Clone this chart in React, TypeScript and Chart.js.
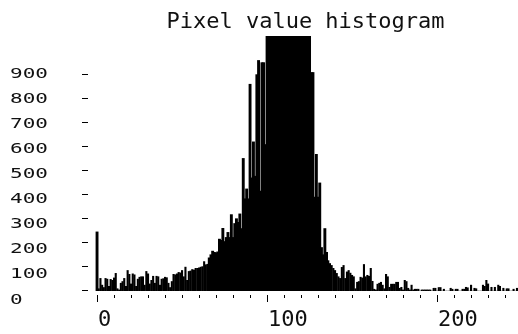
import { useEffect, useRef } from "react";
import { Chart, registerables } from "chart.js";

Chart.register(...registerables);

const chartTitle = "Pixel value histogram";

// Histogram counts per pixel value (bins 0..247)
const countsLow = [
  245, 10, 53, 25, 15, 53, 50, 20, 49, 45,
  55, 74, 10, 5, 33, 40, 53, 20, 86, 70,
  30, 72, 68, 20, 50, 58, 60, 60, 25, 82,
  72, 30, 45, 62, 33, 62, 60, 25, 50, 52,
  58, 56, 33, 15, 40, 70, 68, 72, 78, 76,
];
const countsRise = [
  86, 60, 100, 45, 82, 84, 90, 88, 95, 95,
  97, 100, 102, 123, 110, 112, 137, 150, 165, 160,
  158, 162, 215, 210, 260, 205, 222, 243, 222, 317,
  222, 280, 300, 285, 320, 259, 551, 383, 424, 383,
  860, 470, 620, 477, 900, 959, 415, 950, 950, 609,
];
const countsPeak = [
  1150, 1250, 1350, 1450, 1550, 1650, 1750, 1850, 1900, 1950,
  2000, 2050, 2050, 2000, 1950, 1900, 1850, 1750, 1650, 1550,
  1450, 1350, 1250, 1200, 1150, 1100, 909, 909, 390, 568,
  390, 449, 180, 150, 259, 160, 127, 115, 107, 95,
  86, 74, 60, 53, 99, 107, 53, 80, 86, 75,
];
const countsTail = [
  66, 60, 10, 37, 40, 58, 55, 111, 60, 66,
  62, 95, 41, 8, 5, 29, 33, 37, 25, 10,
  70, 60, 16, 29, 29, 29, 37, 37, 12, 16,
  5, 45, 40, 12, 5, 25, 5, 8, 8, 8,
  0, 5, 5, 5, 5, 5, 5, 0, 12, 12,
];
const countsFar = [
  0, 15, 15, 0, 8, 0, 0, 0, 12, 8,
  0, 8, 8, 0, 0, 8, 8, 16, 14, 0,
  25, 0, 12, 10, 0, 0, 0, 25, 20, 45,
  30, 0, 16, 0, 16, 0, 25, 20, 0, 12,
  0, 10, 10, 0, 0, 8, 0, 12,
];

const counts = [...countsLow, ...countsRise, ...countsPeak, ...countsTail, ...countsFar];
const pixelValues = counts.map((_, i) => i);

const yTickValues = [0, 100, 200, 300, 400, 500, 600, 700, 800, 900];
const xMajorTicks = [0, 100, 200];
const xMinorTicks = [10, 20, 30, 40, 50, 60, 70, 80, 90, 110, 120, 130, 140, 150, 160, 170, 180, 190, 210, 220, 230, 240];

const X_MIN = -1.2;
const X_MAX = 247.6;
const Y_MAX = 1062;

const FONT = "'DejaVu Sans Mono', 'Liberation Mono', monospace";

export default function App() {
  const ref = useRef<HTMLCanvasElement | null>(null);

  useEffect(() => {
    if (!ref.current) return;

    const axesPlugin = {
      id: "oldStyleAxes",
      afterDraw(chart: any) {
        const ctx: CanvasRenderingContext2D = chart.ctx;
        const xs = chart.scales.x;
        const ys = chart.scales.y;
        const area = chart.chartArea;
        ctx.save();
        ctx.strokeStyle = "#000";
        ctx.fillStyle = "#111";
        ctx.lineWidth = 1;

        // y-axis dashes
        for (const v of yTickValues) {
          const py = Math.round(ys.getPixelForValue(v)) - 0.5;
          ctx.beginPath();
          ctx.moveTo(area.left - 13, py);
          ctx.lineTo(area.left - 7, py);
          ctx.stroke();
        }
        // y labels (wide, short glyphs)
        ctx.font = `14px ${FONT}`;
        ctx.textAlign = "left";
        ctx.textBaseline = "alphabetic";
        for (const v of yTickValues) {
          const center = ys.getPixelForValue(v) - 1.5 + (900 - v) * 0.01;
          ctx.save();
          ctx.translate(10, center + 5);
          ctx.scale(1.5, 1);
          ctx.fillText(String(v), 0, 0);
          ctx.restore();
        }

        // x-axis ticks
        const base = area.bottom;
        for (const v of xMinorTicks) {
          const px = Math.round(xs.getPixelForValue(v)) + 0.5;
          ctx.beginPath();
          ctx.moveTo(px, base + 4);
          ctx.lineTo(px, base + 7);
          ctx.stroke();
        }
        for (const v of xMajorTicks) {
          const px = Math.round(xs.getPixelForValue(v)) + 0.5;
          ctx.beginPath();
          ctx.moveTo(px, base + 4);
          ctx.lineTo(px, base + 11);
          ctx.stroke();
        }
        ctx.font = `22px ${FONT}`;
        ctx.textAlign = "left";
        for (const v of xMajorTicks) {
          const px = xs.getPixelForValue(v);
          ctx.fillText(String(v), px + 1, base + 35);
        }

        // title
        ctx.font = `22px ${FONT}`;
        ctx.textAlign = "center";
        ctx.fillText(chartTitle, 305.5, 27.5);
        ctx.restore();
      },
    };

    const chart = new Chart(ref.current, {
      type: "bar",
      data: {
        datasets: [
          {
            label: "count",
            data: pixelValues.map((x, i) => ({ x, y: counts[i] })),
            backgroundColor: "#000",
            borderWidth: 0,
            barPercentage: 1,
            categoryPercentage: 1,
            inflateAmount: (c: any) => (c.raw && c.raw.y >= 130 ? 0.6 : 0.2),
          },
        ],
      },
      options: {
        responsive: false,
        animation: false,
        devicePixelRatio: 1,
        layout: { padding: { left: 95, right: 0, top: 36, bottom: 43 } },
        plugins: {
          legend: { display: false },
          tooltip: { enabled: false },
          title: { display: false },
        },
        scales: {
          x: { type: "linear", min: X_MIN, max: X_MAX, offset: false, display: false, grid: { offset: false } },
          y: { type: "linear", min: 0, max: Y_MAX, display: false },
        },
      },
      plugins: [axesPlugin],
    });

    return () => chart.destroy();
  }, []);

  return (
    <div style={{ position: "fixed", left: 0, top: 0, width: 518, height: 334, background: "#fff" }}>
      <canvas ref={ref} width={518} height={334} />
    </div>
  );
}
